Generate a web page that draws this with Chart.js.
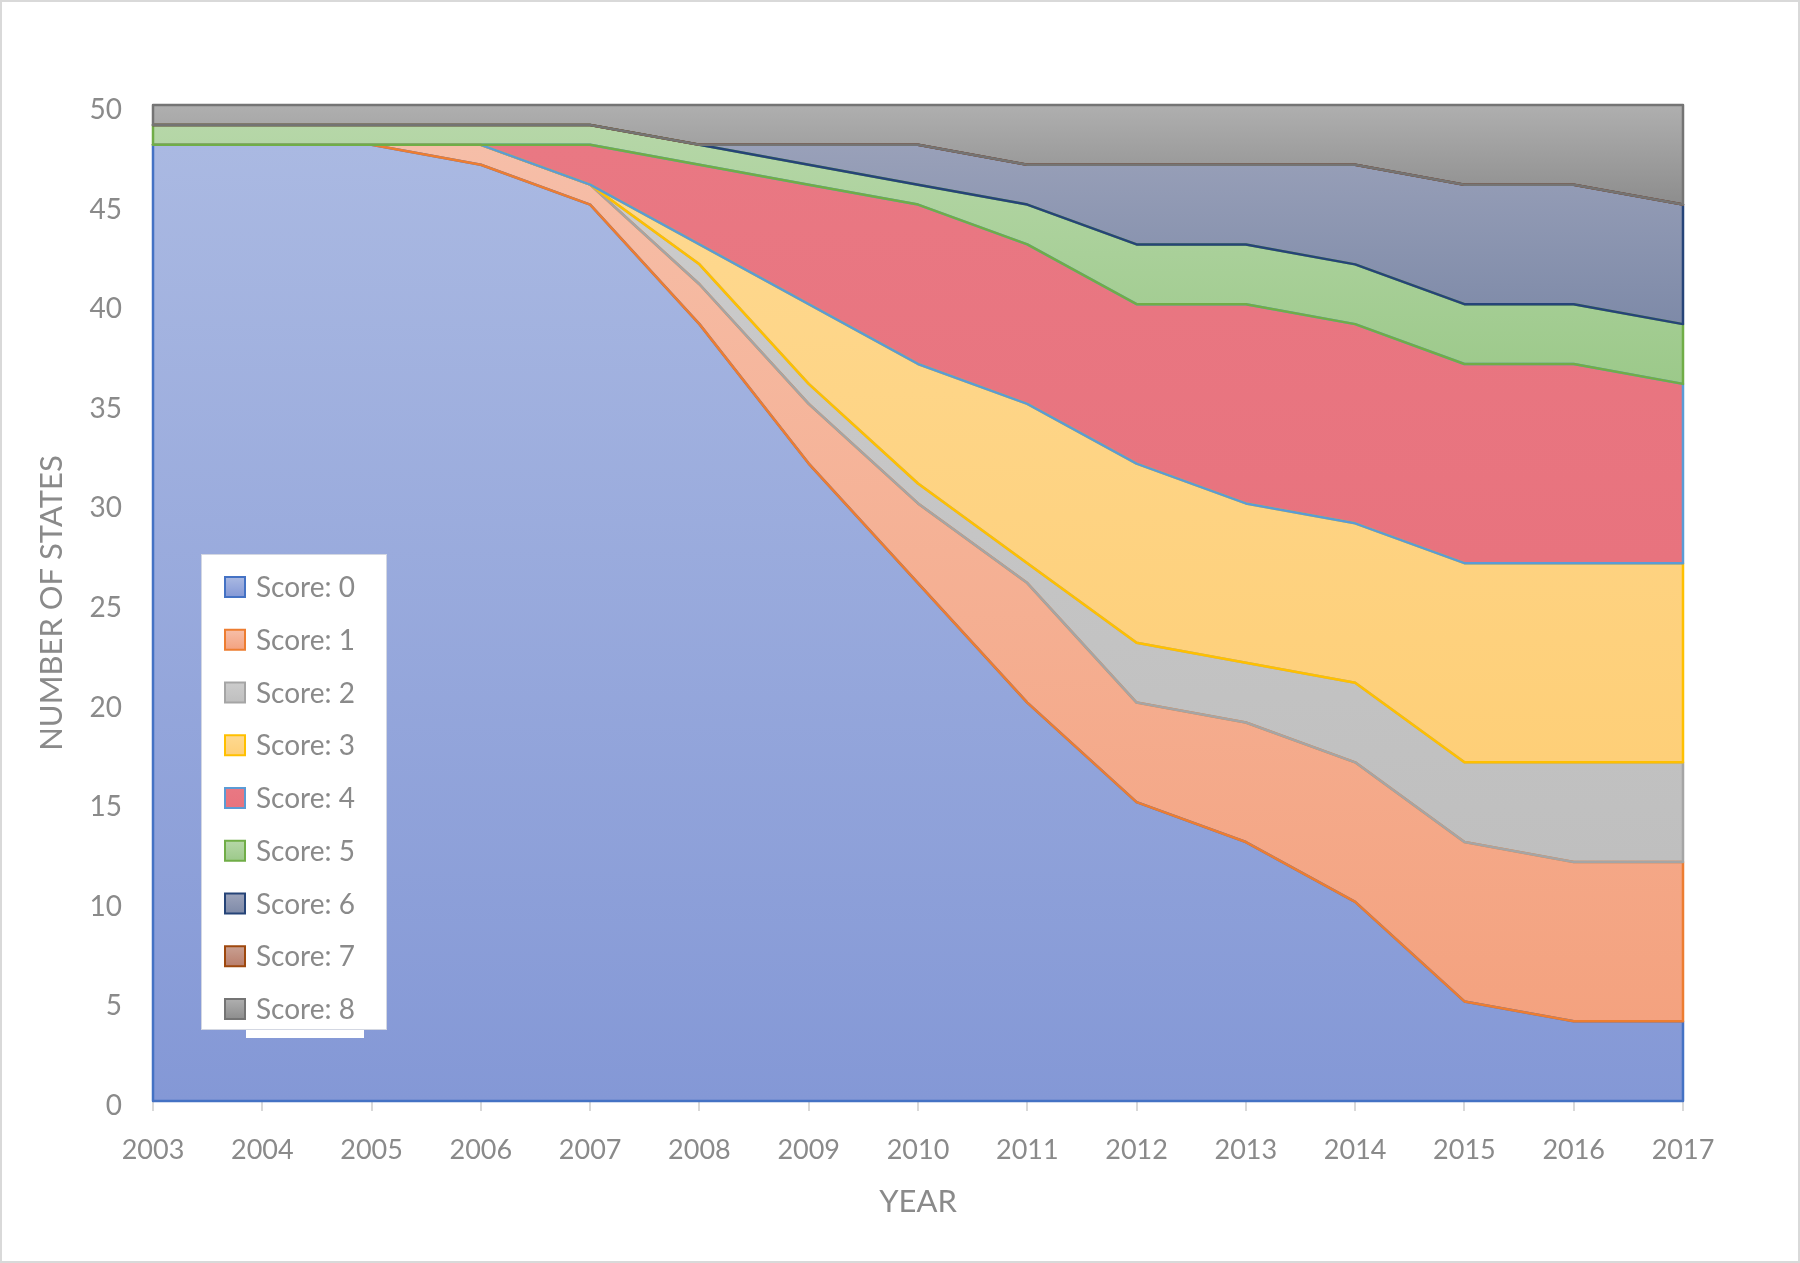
<!DOCTYPE html>
<html>
<head>
<meta charset="utf-8">
<title>Number of states by score</title>
<script src="https://cdn.jsdelivr.net/npm/chart.js@4.4.1/dist/chart.umd.min.js"></script>
<style>
  html, body { margin: 0; padding: 0; background: #fff; }
  canvas { display: block; }
</style>
</head>
<body>
<canvas id="scoreChart" width="1800" height="1263"></canvas>
<script>
const years = ['2003', '2004', '2005', '2006', '2007', '2008', '2009', '2010',
               '2011', '2012', '2013', '2014', '2015', '2016', '2017'];

const score0 = [48, 48, 48, 47, 45, 39, 32, 26, 20, 15, 13, 10, 5, 4, 4];
const score1 = [0, 0, 0, 1, 1, 2, 3, 4, 6, 5, 6, 7, 8, 8, 8];
const score2 = [0, 0, 0, 0, 0, 1, 1, 1, 1, 3, 3, 4, 4, 5, 5];
const score3 = [0, 0, 0, 0, 0, 1, 4, 6, 8, 9, 8, 8, 10, 10, 10];
const score4 = [0, 0, 0, 0, 2, 4, 6, 8, 8, 8, 10, 10, 10, 10, 9];
const score5 = [1, 1, 1, 1, 1, 1, 1, 1, 2, 3, 3, 3, 3, 3, 3];
const score6 = [0, 0, 0, 0, 0, 0, 1, 2, 2, 4, 4, 5, 6, 6, 6];
const score7 = [0, 0, 0, 0, 0, 0, 0, 0, 0, 0, 0, 0, 0, 0, 0];
const score8 = [1, 1, 1, 1, 1, 2, 2, 2, 3, 3, 3, 3, 4, 4, 5];

const seriesLabels = ['Score: 0', 'Score: 1', 'Score: 2', 'Score: 3', 'Score: 4',
                      'Score: 5', 'Score: 6', 'Score: 7', 'Score: 8'];
const seriesValues = [score0, score1, score2, score3, score4, score5, score6, score7, score8];

// outline colour of each area, and the light -> dark gradient of its fill
const edgeColors = ['#4472C4', '#ED7D31', '#A5A5A5', '#FFC000', '#5B9BD5',
                    '#70AD47', '#264478', '#9E480E', '#747474'];
const fillTop = ['#aab9e2', '#f6bea8', '#cccccc', '#fed991', '#e97883',
                 '#b6d7a8', '#9ca3bb', '#c9a092', '#afafaf'];
const fillBottom = ['#8498d6', '#f4a27f', '#bfbfbf', '#fecf78', '#e8737e',
                    '#9cc98a', '#7e8aa8', '#b97e6c', '#8d8d8d'];

const TEXT_COLOR = '#8a8a8a';
const FONT = 'Lato, "Noto Sans", sans-serif';

// running totals, only used to size each area's gradient
const stackTops = [];
seriesValues.forEach((values, i) => {
    stackTops.push(values.map((v, k) => v + (i > 0 ? stackTops[i - 1][k] : 0)));
});

function areaFill(i) {
    return function (context) {
        const { ctx, chartArea, scales } = context.chart;
        if (!chartArea || !scales.y) return fillTop[i];
        const hi = Math.max(...stackTops[i]);
        const lo = i > 0 ? Math.min(...stackTops[i - 1]) : 0;
        const y0 = scales.y.getPixelForValue(hi);
        const y1 = scales.y.getPixelForValue(lo);
        if (!isFinite(y0) || !isFinite(y1) || y1 - y0 < 1) return fillTop[i];
        const gradient = ctx.createLinearGradient(0, y0, 0, y1);
        gradient.addColorStop(0, fillTop[i]);
        gradient.addColorStop(1, fillBottom[i]);
        return gradient;
    };
}

// Excel outlines every area polygon in its own colour, later series on top
const areaEdges = {
    id: 'areaEdges',
    afterDatasetsDraw(chart) {
        const ctx = chart.ctx;
        const base = chart.scales.y.getPixelForValue(0);
        ctx.save();
        ctx.lineWidth = 2.5;
        ctx.lineJoin = 'round';
        chart.data.datasets.forEach((ds, i) => {
            const top = chart.getDatasetMeta(i).data;
            const below = i > 0 ? chart.getDatasetMeta(i - 1).data : null;
            ctx.beginPath();
            top.forEach((p, k) => k ? ctx.lineTo(p.x, p.y) : ctx.moveTo(p.x, p.y));
            for (let k = top.length - 1; k >= 0; k--) {
                ctx.lineTo(top[k].x, below ? below[k].y : base);
            }
            ctx.closePath();
            ctx.strokeStyle = edgeColors[i];
            ctx.stroke();
        });
        ctx.restore();
    }
};

const frame = {
    id: 'frame',
    beforeDraw(chart) {
        const ctx = chart.ctx;
        ctx.save();
        ctx.fillStyle = '#ffffff';
        ctx.fillRect(0, 0, chart.width, chart.height);
        ctx.strokeStyle = '#d9d9d9';
        ctx.lineWidth = 2;
        ctx.strokeRect(1, 1, chart.width - 2, chart.height - 2);
        ctx.restore();
    }
};

const boxLegend = {
    id: 'boxLegend',
    afterDraw(chart) {
        const ctx = chart.ctx;
        ctx.save();
        ctx.fillStyle = '#ffffff';
        ctx.fillRect(201, 554, 186, 476);
        ctx.fillRect(246, 1029, 118, 9);
        ctx.strokeStyle = '#d3d7e2';
        ctx.lineWidth = 1;
        ctx.strokeRect(201.5, 554.5, 185, 475);
        ctx.font = '28px ' + FONT;
        ctx.textBaseline = 'middle';
        ctx.textAlign = 'left';
        seriesLabels.forEach((label, i) => {
            const cy = 587 + i * 52.75;
            const g = ctx.createLinearGradient(0, cy - 10, 0, cy + 10);
            g.addColorStop(0, fillTop[i]);
            g.addColorStop(1, fillBottom[i]);
            ctx.fillStyle = g;
            ctx.fillRect(225, cy - 10, 20, 20);
            ctx.strokeStyle = edgeColors[i];
            ctx.lineWidth = 2;
            ctx.strokeRect(225, cy - 10, 20, 20);
            ctx.fillStyle = TEXT_COLOR;
            ctx.fillText(label, 256, cy + 1);
        });
        ctx.restore();
    }
};

const datasets = seriesValues.map((values, i) => ({
    label: seriesLabels[i],
    data: values,
    fill: i === 0 ? 'origin' : '-1',
    backgroundColor: areaFill(i),
    borderColor: 'transparent',
    borderWidth: 0,
    pointRadius: 0,
    tension: 0
}));

new Chart(document.getElementById('scoreChart'), {
    type: 'line',
    data: { labels: years, datasets: datasets },
    options: {
        responsive: false,
        devicePixelRatio: 1,
        animation: false,
        events: [],
        layout: { padding: { left: 0, top: 105, right: 117, bottom: 0 } },
        plugins: {
            legend: { display: false },
            tooltip: { enabled: false },
            filler: { propagate: false }
        },
        scales: {
            x: {
                offset: false,
                grid: { drawOnChartArea: false, drawTicks: true, tickLength: 10, color: '#d9d9d9', lineWidth: 2 },
                border: { display: true, color: '#d9d9d9', width: 2 },
                ticks: { color: TEXT_COLOR, font: { family: FONT, size: 27 }, padding: 23, maxRotation: 0, autoSkip: false },
                title: {
                    display: true, text: 'YEAR', color: TEXT_COLOR,
                    font: { family: FONT, size: 31 }, padding: { top: 0, bottom: 42 }
                },
                afterFit(scale) { scale.height = 162; }
            },
            y: {
                stacked: true,
                min: 0,
                max: 50,
                grid: { display: false },
                border: { display: false },
                ticks: { stepSize: 5, color: TEXT_COLOR, font: { family: FONT, size: 28 }, padding: 23, labelOffset: 5 },
                title: {
                    display: true, text: 'NUMBER OF STATES', color: TEXT_COLOR,
                    font: { family: FONT, size: 31 }, padding: { top: 33, bottom: 0 }
                },
                afterFit(scale) { scale.width = 153; }
            }
        }
    },
    plugins: [frame, areaEdges, boxLegend]
});
</script>
</body>
</html>
